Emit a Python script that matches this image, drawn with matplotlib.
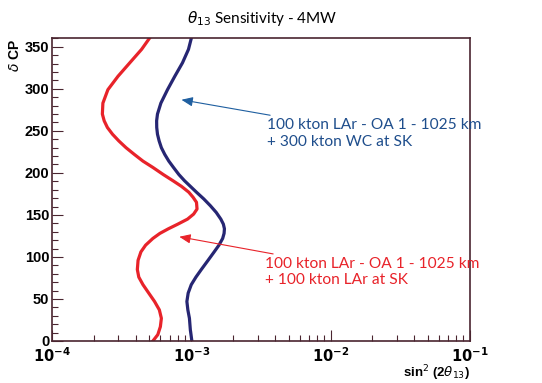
import numpy as np
import matplotlib
matplotlib.use("Agg")
import matplotlib.pyplot as plt
from matplotlib.ticker import MultipleLocator, LogLocator, NullFormatter

# delta CP (deg) vs sin^2(2 theta13) sensitivity
red_dcp = [0, 7.5, 17, 27, 37, 47, 57, 67, 76, 85, 96, 106, 114, 122, 128,
           133.5, 139, 145, 151, 157, 165, 171, 177, 184, 190.6, 198, 206.5,
           214, 222, 230, 238, 246, 254, 262, 270, 283, 299, 315, 331, 347, 360]
red_s2t = [5.3e-4, 5.75e-4, 6.0e-4, 6.1e-4, 5.9e-4, 5.45e-4, 4.95e-4, 4.5e-4,
           4.2e-4, 4.1e-4, 4.15e-4, 4.35e-4, 4.7e-4, 5.3e-4, 5.95e-4,
           6.85e-4, 8.0e-4, 9.4e-4, 1.04e-3, 1.1e-3, 1.09e-3, 1.03e-3, 9.6e-4,
           8.5e-4, 7.4e-4, 6.3e-4, 5.3e-4, 4.5e-4, 3.9e-4, 3.4e-4, 3.02e-4,
           2.72e-4, 2.5e-4, 2.37e-4, 2.3e-4, 2.32e-4, 2.52e-4, 2.98e-4,
           3.62e-4, 4.4e-4, 5.0e-4]

blue_dcp = [0, 13, 27, 37, 47, 57, 67, 76, 85, 96, 106, 114, 122, 128, 133.5,
            139, 145, 153, 161, 169, 177, 184, 190.6, 198, 206.5, 214, 222,
            230, 238, 246, 254, 262, 270, 283, 299, 315, 331, 347, 360]
blue_s2t = [1.01e-3, 9.85e-4, 9.7e-4, 9.45e-4, 9.3e-4, 9.5e-4, 1.0e-3, 1.08e-3,
            1.18e-3, 1.32e-3, 1.46e-3, 1.58e-3, 1.68e-3, 1.72e-3, 1.73e-3,
            1.7e-3, 1.63e-3, 1.51e-3, 1.37e-3, 1.23e-3, 1.09e-3, 9.85e-4,
            8.95e-4, 8.15e-4, 7.45e-4, 6.9e-4, 6.45e-4, 6.1e-4, 5.88e-4,
            5.72e-4, 5.65e-4, 5.64e-4, 5.72e-4, 6.05e-4, 6.75e-4, 7.62e-4,
            8.65e-4, 9.55e-4, 1.0e-3]

blue_label = "100 kton LAr - OA 1 - 1025 km\n+ 300 kton WC at SK"
red_label = "100 kton LAr - OA 1 - 1025 km\n+ 100 kton LAr at SK"

RED = "#e8232a"
BLUE = "#262673"
BLUE_TXT = "#1f4e8c"
FRAME = "#4a2530"

fig = plt.figure(figsize=(5.42, 3.83), dpi=100)
ax = fig.add_axes([0.0959, 0.1097, 0.771, 0.790])

ax.plot(red_s2t, red_dcp, color=RED, lw=2.3, solid_joinstyle="round")
ax.plot(blue_s2t, blue_dcp, color=BLUE, lw=2.3, solid_joinstyle="round")

ax.set_xscale("log")
ax.set_xlim(1e-4, 1e-1)
ax.set_ylim(0, 360)

ax.yaxis.set_major_locator(MultipleLocator(50))
ax.yaxis.set_minor_locator(MultipleLocator(10))
ax.xaxis.set_minor_locator(LogLocator(base=10, subs=np.arange(2, 10)))
ax.xaxis.set_minor_formatter(NullFormatter())

for s in ax.spines.values():
    s.set_color(FRAME)
    s.set_linewidth(1.2)
ax.tick_params(which="both", direction="in", colors=FRAME, labelcolor="black")
ax.tick_params(which="major", length=8, width=0.8)
ax.tick_params(which="minor", length=4, width=0.8)
ax.tick_params(axis="x", pad=4)
ax.tick_params(axis="y", pad=2)

ax.set_xticks([1e-4, 1e-3, 1e-2, 1e-1])
ax.set_xticklabels([r"$\mathbf{10^{-4}}$", r"$\mathbf{10^{-3}}$",
                    r"$\mathbf{10^{-2}}$", r"$\mathbf{10^{-1}}$"], fontsize=10.5)
for lab in ax.get_yticklabels():
    lab.set_fontfamily("Liberation Sans")
    lab.set_fontweight("bold")
    lab.set_fontsize(10.5)

ax.set_ylabel(r"$\delta$ CP", fontsize=10, fontweight="bold",
              family="Liberation Sans", loc="top", labelpad=2)
ax.set_xlabel(r"sin$^{2}$ (2$\theta_{13}$)", fontsize=9.5, fontweight="bold",
              family="Liberation Sans", loc="right", labelpad=-1.5)

fig.text(0.483, 0.952, r"$\theta_{13}$ Sensitivity - 4MW", ha="center",
         va="center", fontsize=11, family="Lato")

ax.annotate(blue_label, xy=(8.5e-4, 287), xytext=(3.5e-3, 247),
            color=BLUE_TXT, fontsize=11.2, family="Lato", va="center",
            ha="left", linespacing=1.25,
            arrowprops=dict(arrowstyle="-|>,head_length=0.6,head_width=0.25",
                            color="#1f5fa0", lw=0.8, shrinkA=0, shrinkB=0))
ax.annotate(red_label, xy=(8.2e-4, 124), xytext=(3.4e-3, 82),
            color=RED, fontsize=11.2, family="Lato", va="center",
            ha="left", linespacing=1.25,
            arrowprops=dict(arrowstyle="-|>,head_length=0.6,head_width=0.25",
                            color=RED, lw=0.8, shrinkA=0, shrinkB=0))

fig.savefig("out.png", dpi=100)
